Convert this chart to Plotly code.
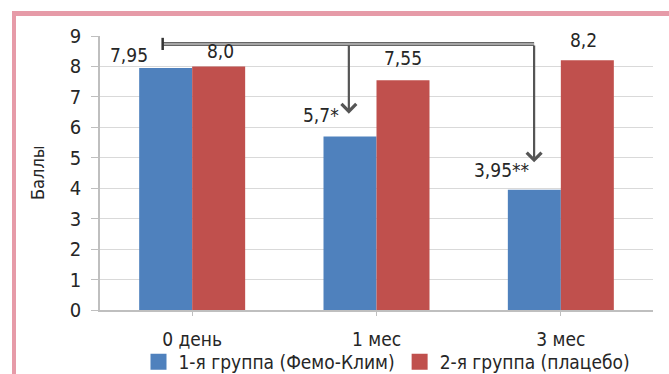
import plotly.graph_objects as go

# Visit time points and mean scores per group
periods = ["0 день", "1 мес", "3 мес"]
group1_name = "1-я группа (Фемо-Клим)"
group2_name = "2-я группа (плацебо)"
group1_scores = [7.95, 5.7, 3.95]
group2_scores = [8.0, 7.55, 8.2]
group1_marks = ["", "*", "**"]

BLUE = "#4f81bd"
RED = "#c0504d"
PINK = "#e69ba8"
FONT = "Liberation Sans Narrow, Arial Narrow, DejaVu Sans Condensed, sans-serif"
TXT = "#262626"

# plot area geometry in pixels
L, R, T, B = 100, 16, 36, 64
W, H = 669, 374
PW, PH = W - L - R, H - T - B

x_idx = list(range(len(periods)))

fig = go.Figure()
fig.add_trace(go.Bar(x=x_idx, y=group1_scores, name=group1_name,
                     marker=dict(color=BLUE, line=dict(width=0)), showlegend=False))
fig.add_trace(go.Bar(x=x_idx, y=group2_scores, name=group2_name,
                     marker=dict(color=RED, line=dict(width=0)), showlegend=False))

# Legend entries with larger square swatches
for name, col in [(group1_name, BLUE), (group2_name, RED)]:
    fig.add_trace(go.Scatter(x=[None], y=[None], mode="markers", name=name,
                             marker=dict(symbol="square", size=16, color=col)))


def fmt(v):
    s = f"{v:.2f}".rstrip("0")
    if s.endswith("."):
        s += "0"
    return s.replace(".", ",")


annotations = []
# Value labels for group 1 (shifted aside from the arrows)
g1_shift = [(-36, 0), (-29, 8), (-32, 7)]
for i, v in enumerate(group1_scores):
    dx, dy = g1_shift[i]
    annotations.append(dict(x=i - 0.145, y=v, xref="x", yref="y", text=fmt(v) + group1_marks[i],
                            showarrow=False, yanchor="bottom", xshift=dx, yshift=dy,
                            font=dict(family=FONT, size=19, color=TXT)))
# Value labels for group 2
g2_shift = [(2, 2), (0, 9), (-4, 7)]
for i, v in enumerate(group2_scores):
    dx, dy = g2_shift[i]
    annotations.append(dict(x=i + 0.145, y=v, xref="x", yref="y", text=fmt(v),
                            showarrow=False, yanchor="bottom", xshift=dx, yshift=dy,
                            font=dict(family=FONT, size=19, color=TXT)))

# Comparison arrows from baseline to 1 and 3 months
ARROW_Y = 8.74
arrow_ends = [(0.85, 6.45), (1.855, 4.85)]
for ax_x, end_y in arrow_ends:
    annotations.append(dict(x=ax_x, y=end_y, ax=ax_x, ay=ARROW_Y, xref="x", yref="y",
                            axref="x", ayref="y", showarrow=True, arrowhead=4,
                            arrowsize=1.3, arrowwidth=2.2, arrowcolor="#555555", text=""))

# Axis title
annotations.append(dict(x=(37 - L) / PW, y=0.5, xref="paper", yref="paper", text="Баллы",
                        showarrow=False, textangle=-90, xanchor="center",
                        font=dict(family=FONT, size=18, color=TXT)))

shapes = [
    # horizontal bracket line (double-stroke look)
    dict(type="line", xref="x", yref="y", x0=-0.16, x1=1.855, y0=ARROW_Y, y1=ARROW_Y,
         line=dict(color="#666666", width=4)),
    dict(type="line", xref="x", yref="y", x0=-0.16, x1=1.855, y0=ARROW_Y, y1=ARROW_Y,
         line=dict(color="#bdbdbd", width=1.5)),
    dict(type="line", xref="x", yref="y", x0=-0.16, x1=-0.16, y0=ARROW_Y - 0.2, y1=ARROW_Y + 0.2,
         line=dict(color="#333333", width=2.5)),
    # pink frame: left and top strips
    dict(type="rect", xref="paper", yref="paper", x0=(12 - L) / PW, x1=(16 - L) / PW,
         y0=-B / PH - 0.1, y1=(T - 11) / PH + 1, line=dict(width=0), fillcolor=PINK, layer="below"),
    dict(type="rect", xref="paper", yref="paper", x0=(12 - L) / PW, x1=(W + 20 - L) / PW,
         y0=(T - 16) / PH + 1, y1=(T - 11) / PH + 1, line=dict(width=0), fillcolor=PINK,
         layer="below"),
]

fig.update_layout(
    width=W, height=H,
    margin=dict(l=L, r=R, t=T, b=B, autoexpand=False),
    paper_bgcolor="white", plot_bgcolor="white",
    barmode="group", bargap=0.425, bargroupgap=0,
    font=dict(family=FONT, size=18, color=TXT),
    showlegend=True,
    legend=dict(orientation="h", x=(387 - L) / PW, xanchor="center",
                y=-(362 - (T + PH)) / PH, yanchor="middle",
                font=dict(family=FONT, size=19, color=TXT), itemwidth=30,
                bgcolor="rgba(0,0,0,0)"),
    annotations=annotations,
    shapes=shapes,
)
fig.update_xaxes(range=[-0.5, 2.5], tickvals=x_idx, ticktext=periods,
                 showgrid=False, showline=True, linecolor="#bfbfbf", linewidth=1.5,
                 ticks="outside", ticklen=4, tickcolor="#bfbfbf", tickson="boundaries",
                 ticklabelstandoff=7, tickfont=dict(family=FONT, size=19, color=TXT),
                 zeroline=False, fixedrange=True)
fig.update_yaxes(range=[0, 9], dtick=1, showgrid=True, gridcolor="#d9d9d9", gridwidth=1,
                 showline=True, linecolor="#bfbfbf", linewidth=1.5,
                 ticks="outside", ticklen=7, tickcolor="#bfbfbf", ticklabelstandoff=6,
                 tickfont=dict(family=FONT, size=20, color=TXT),
                 zeroline=False, fixedrange=True)

fig.write_html("out.html")
